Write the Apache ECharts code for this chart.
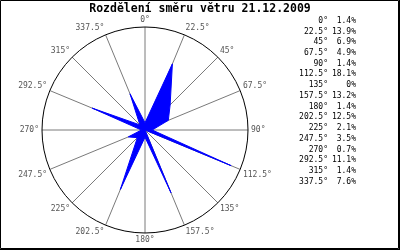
<!DOCTYPE html>
<html>
<head>
<meta charset="utf-8">
<script src="https://cdn.jsdelivr.net/npm/echarts@6/dist/echarts.min.js"></script>
<style>
html,body{margin:0;padding:0;background:#fff;}
#chart{width:400px;height:250px;}
</style>
</head>
<body>
<div id="chart"></div>
<script>
var titleText = 'Rozdělení směru větru 21.12.2009';
var directions = [0, 22.5, 45, 67.5, 90, 112.5, 135, 157.5, 180, 202.5, 225, 247.5, 270, 292.5, 315, 337.5];
var frequencies = [1.4, 13.9, 6.9, 4.9, 1.4, 18.1, 0, 13.2, 1.4, 12.5, 2.1, 3.5, 0.7, 11.1, 1.4, 7.6];
var radiusMax = 20;

var mono = '"DejaVu Sans Mono", "Liberation Mono", monospace';

var seriesData = directions.map(function (d, i) { return [frequencies[i], d]; });
seriesData.push([frequencies[0], 360]);

var graphics = [];
graphics.push({
  type: 'text', x: 200, y: 9, silent: true,
  style: { text: titleText, align: 'center', verticalAlign: 'middle', font: 'bold 11.5px ' + mono, fill: '#000' }
});
directions.forEach(function (d, i) {
  var y = 20.7 + i * 10.73;
  graphics.push({
    type: 'text', x: 328, y: y, silent: true,
    style: { text: d + '°', align: 'right', verticalAlign: 'middle', font: '8px ' + mono, fill: '#000' }
  });
  graphics.push({
    type: 'text', x: 356, y: y, silent: true,
    style: { text: frequencies[i] + '%', align: 'right', verticalAlign: 'middle', font: '8px ' + mono, fill: '#000' }
  });
});
graphics.push({ type: 'rect', silent: true, shape: { x: 0.5, y: 0.5, width: 398, height: 248 }, style: { fill: null, stroke: '#000', lineWidth: 1 } });
graphics.push({ type: 'line', silent: true, shape: { x1: 399.5, y1: 0, x2: 399.5, y2: 250 }, style: { stroke: '#000', lineWidth: 1 } });
graphics.push({ type: 'line', silent: true, shape: { x1: 0, y1: 249.5, x2: 400, y2: 249.5 }, style: { stroke: '#000', lineWidth: 1 } });

var chart = echarts.init(document.getElementById('chart'), null, { renderer: 'canvas' });
chart.setOption({
  animation: false,
  backgroundColor: '#fff',
  polar: { center: [145, 130], radius: 103 },
  angleAxis: {
    type: 'value', min: 0, max: 360, interval: 22.5,
    startAngle: 90, clockwise: true,
    axisLine: { show: true, lineStyle: { color: '#000', width: 1 } },
    axisTick: { show: false },
    splitLine: { show: true, lineStyle: { color: '#7a7a7a', width: 1 } },
    axisLabel: {
      margin: 3,
      fontFamily: mono, fontSize: 8, color: '#555',
      formatter: function (v) { return v === 360 ? '' : v + '°'; }
    }
  },
  radiusAxis: {
    min: 0, max: radiusMax, show: false,
    splitLine: { show: false }, axisLine: { show: false }, axisLabel: { show: false }
  },
  series: [{
    type: 'line', coordinateSystem: 'polar', data: seriesData,
    symbol: 'none', silent: true, z: 3,
    lineStyle: { color: '#0000ff', width: 1 },
    areaStyle: { color: '#0000ff', opacity: 1 }
  }],
  graphic: graphics
});
</script>
</body>
</html>
